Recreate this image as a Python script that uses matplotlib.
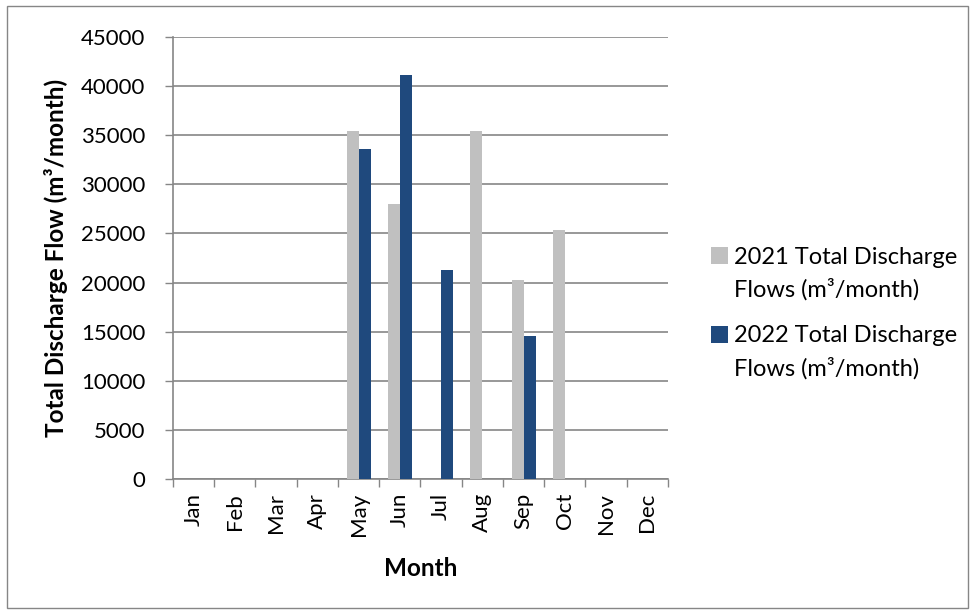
import numpy as np
import matplotlib.pyplot as plt
from matplotlib.patches import Rectangle

plt.rcParams['font.family'] = ['Lato', 'DejaVu Sans']

months = ["Jan", "Feb", "Mar", "Apr", "May", "Jun",
          "Jul", "Aug", "Sep", "Oct", "Nov", "Dec"]
flows_2021 = [0, 0, 0, 0, 35400, 28000, 0, 35450, 20250, 25350, 0, 0]
flows_2022 = [0, 0, 0, 0, 33600, 41100, 21300, 0, 14550, 0, 0, 0]
label_2021 = ["2021 Total Discharge", "Flows (m³/month)"]
label_2022 = ["2022 Total Discharge", "Flows (m³/month)"]

fig = plt.figure(figsize=(9.75, 6.12), dpi=100)
ax = fig.add_axes([0.1774, 0.2173, 0.5077, 0.7222])

x = np.arange(len(months))
w = 0.29
b1 = ax.bar(x - w / 2, flows_2021, w, color="#c0c0c0", zorder=3)
b2 = ax.bar(x + w / 2, flows_2022, w, color="#1f497d", zorder=3)

ax.set_xlim(-0.5, 11.5)
ax.set_ylim(0, 45000)
ax.set_yticks(np.arange(0, 45001, 5000))
ax.yaxis.grid(True, color="#868686", linewidth=1.2, zorder=0)

# ticks sit on the category boundaries, labels centred on categories
ax.set_xticks(np.arange(-0.5, 12, 1))
ax.set_xticklabels([])
ax.set_xticks(x, minor=True)
ax.set_xticklabels(months, minor=True, rotation=90, fontsize=16)
ax.tick_params(axis="x", which="major", length=6, color="#868686", width=1)
ax.tick_params(axis="x", which="minor", length=0, pad=10)
ax.tick_params(axis="y", length=6, color="#868686", width=1, labelsize=16, pad=14)

for s in ["top", "right"]:
    ax.spines[s].set_visible(False)
for s in ["left", "bottom"]:
    ax.spines[s].set_color("#868686")
    ax.spines[s].set_linewidth(1.2)

ax.set_xlabel("Month", fontsize=17.5, fontweight="bold")
ax.set_ylabel("Total Discharge Flow (m³/month)", fontsize=17.5, fontweight="bold")
ax.xaxis.set_label_coords(0.5, -0.177)
ax.yaxis.set_label_coords(-0.212, 0.5)

# legend: square beside the first line of each two-line label
leg = fig.legend([b1, b2], [label_2021[0], label_2022[0]], loc="upper left",
                 bbox_to_anchor=(0.729, 0.597), frameon=False, fontsize=17,
                 handlelength=0.75, handleheight=0.75, handletextpad=0.25,
                 labelspacing=2.45, borderpad=0, borderaxespad=0)
fig.canvas.draw()
inv = fig.transFigure.inverted()
for t, second in zip(leg.get_texts(), [label_2021[1], label_2022[1]]):
    bb = t.get_window_extent()
    x0, y0 = inv.transform((bb.x0, bb.y0 - 33))
    fig.text(x0, y0, second, fontsize=17, ha="left", va="bottom")

fig.patches.append(Rectangle((0.007, 0.006), 0.986, 0.985,
                             transform=fig.transFigure, fill=False,
                             edgecolor="#868686", linewidth=1))

fig.savefig("out.png", dpi=100)
